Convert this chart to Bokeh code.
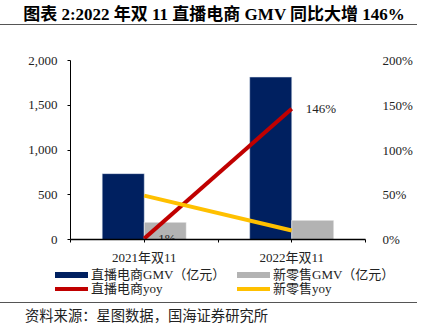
from bokeh.plotting import figure
from bokeh.models import (Range1d, LinearAxis, FixedTicker, NumeralTickFormatter,
                          PrintfTickFormatter, Div, ColumnDataSource)
from bokeh.layouts import column
from bokeh.core.properties import value
from bokeh.embed import file_html
from bokeh.resources import INLINE

categories = ["2021年双11", "2022年双11"]
live_gmv = [736, 1815]          # 直播电商GMV（亿元）
retail_gmv = [193, 215]         # 新零售GMV（亿元）
live_yoy = [1, 146]             # 直播电商yoy (%)
retail_yoy = [49, 10]           # 新零售yoy (%)
live_yoy_labels = ["1%", "146%"]
series_names = ["直播电商GMV（亿元）", "新零售GMV（亿元）", "直播电商yoy", "新零售yoy"]
title_text = "图表 2:2022 年双 11 直播电商 GMV 同比大增 146%"
source_text = "资料来源：星图数据，国海证券研究所"

NAVY, GRAY, RED, YELLOW = "#002060", "#B3B3B3", "#C00000", "#FFC000"
FONT = "'Liberation Serif', 'Times New Roman', 'Noto Sans CJK SC', serif"
CJK = "'Noto Sans CJK SC', 'Liberation Serif', serif"
W = 428

# ---- header ----
top = Div(width=W, height=30, margin=0, text=(
    f'<div style="position:relative;width:{W}px;height:30px;margin:0;padding:0">'
    f'<div style="position:absolute;left:0;top:4px;width:{W}px;text-align:center;'
    f'font-family:{FONT};font-weight:bold;font-size:17px;line-height:21px;color:#000;'
    f'white-space:nowrap">{title_text}</div>'
    f'<div style="position:absolute;left:0;top:24px;width:417px;height:0;'
    f'border-top:1.3px solid #555"></div></div>'))

# ---- main chart ----
xc = [i + 0.5 for i in range(len(categories))]
bw = 0.285
src = ColumnDataSource(dict(
    x_live=[x - bw / 2 for x in xc], x_retail=[x + bw / 2 for x in xc], xc=xc,
    live=live_gmv, retail=retail_gmv, lyoy=live_yoy, ryoy=retail_yoy,
    lab=live_yoy_labels))

p = figure(width=W, height=237, output_backend="svg", toolbar_location=None,
           x_range=Range1d(0, 2), y_range=Range1d(0, 2000),
           min_border_left=70, min_border_right=63, min_border_top=30,
           min_border_bottom=26, outline_line_color=None, background_fill_color="white",
           border_fill_color="white", margin=0)
p.extra_y_ranges = {"pct": Range1d(0, 200)}
p.xgrid.visible = False
p.ygrid.visible = False

navy = p.vbar(x="x_live", top="live", width=bw, source=src, color=NAVY,
              line_color="#dfe6f0", line_width=0.5)
gray = p.vbar(x="x_retail", top="retail", width=bw, source=src, color=GRAY,
              line_color="white", line_width=0.5)
red = p.line(x="xc", y="lyoy", source=src, y_range_name="pct", line_color=RED,
             line_width=4)
yel = p.line(x="xc", y="ryoy", source=src, y_range_name="pct", line_color=YELLOW,
             line_width=4)
p.text(x="xc", y="lyoy", text="lab", source=src, y_range_name="pct", x_offset=14,
       text_baseline="middle", text_align="left", text_font=value(FONT),
       text_font_size="13px", text_color="#222222")

xa = p.xaxis[0]
xa.ticker = FixedTicker(ticks=[0, 0.5, 1, 1.5, 2])
xa.major_label_overrides = {0: "", 0.5: categories[0], 1: "", 1.5: categories[1], 2: ""}
xa.minor_tick_line_color = None
xa.major_tick_in = 0
xa.major_tick_out = 3
xa.axis_line_color = "black"
xa.axis_line_width = 1.5
xa.major_label_standoff = 7
xa.major_label_text_font = FONT
xa.major_label_text_font_size = "13px"
xa.major_label_text_color = "#222222"

ya = p.yaxis[0]
ya.ticker = FixedTicker(ticks=[0, 500, 1000, 1500, 2000])
ya.formatter = NumeralTickFormatter(format="0,0")
ya.minor_tick_line_color = None
ya.major_tick_in = 0
ya.major_tick_out = 3
ya.axis_line_color = "black"
ya.major_label_standoff = 10
ya.major_label_text_font = FONT
ya.major_label_text_font_size = "13px"
ya.major_label_text_color = "#222222"

ra = LinearAxis(y_range_name="pct", ticker=FixedTicker(ticks=[0, 50, 100, 150, 200]),
                formatter=PrintfTickFormatter(format="%d%%"))
ra.axis_line_color = None
ra.major_tick_line_color = None
ra.minor_tick_line_color = None
ra.major_label_standoff = 11
ra.major_label_text_font = FONT
ra.major_label_text_font_size = "13px"
ra.major_label_text_color = "#222222"
p.add_layout(ra, "right")

# ---- legend (two columns, two rows) ----
def item(x, yc, color, h, label):
    return (f'<div style="position:absolute;left:{x}px;top:{yc - h / 2}px;width:33px;'
            f'height:{h}px;background:{color}"></div>'
            f'<div style="position:absolute;left:{x + 36}px;top:{yc - 8}px;'
            f'font-family:{FONT};font-size:13px;line-height:16px;color:#222;'
            f'white-space:nowrap">{label}</div>')

legend_html = (f'<div style="position:relative;width:{W}px;height:33px;margin:0;padding:0">'
               + item(55, 8, NAVY, 6, series_names[0])
               + item(237, 8, GRAY, 6, series_names[1])
               + item(55, 22, RED, 4, series_names[2])
               + item(237, 22, YELLOW, 4, series_names[3])
               + '</div>')
leg = Div(width=W, height=33, margin=0, text=legend_html)

# ---- footer ----
bot = Div(width=W, height=25, margin=0, text=(
    f'<div style="position:relative;width:{W}px;height:25px;margin:0;padding:0">'
    f'<div style="position:absolute;left:0;top:2px;width:417px;height:0;'
    f'border-top:1.3px solid #555"></div>'
    f'<div style="position:absolute;left:25px;top:5px;font-family:{CJK};'
    f'font-size:14.3px;line-height:19px;color:#222;white-space:nowrap">{source_text}</div>'
    f'</div>'))

open("out.html", "w").write(file_html(column(top, p, leg, bot, spacing=0), INLINE))
